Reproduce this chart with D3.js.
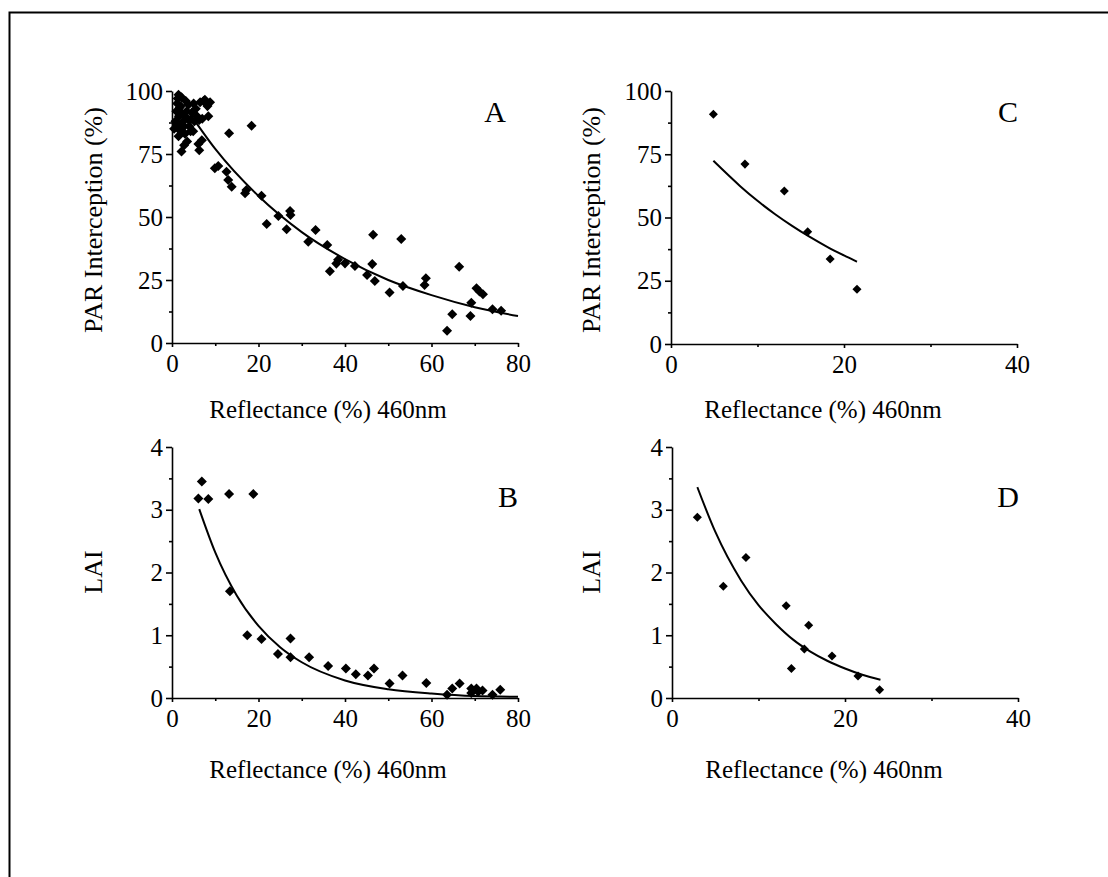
<!DOCTYPE html>
<html>
<head>
<meta charset="utf-8">
<script src="https://cdn.jsdelivr.net/npm/d3@7"></script>
<style>
  body { margin: 0; background: #fff; }
</style>
</head>
<body>
<svg id="chart" width="1108" height="877"></svg>
<script>
// panel A: PAR interception vs reflectance (all plots)
const parA = [
  [0.8, 88], [1.0, 92], [1.2, 95], [1.3, 97], [1.5, 98.5], [1.6, 90], [1.8, 86], [1.5, 82],
  [2.0, 94], [2.2, 97.5], [2.4, 91], [2.6, 88], [2.2, 76], [2.8, 78.5], [3.0, 83], [3.2, 96],
  [3.4, 92], [3.6, 89], [3.8, 94.5], [4.0, 86], [4.3, 84], [4.6, 91.5], [4.9, 84], [5.2, 88],
  [5.5, 93], [5.8, 90], [6.1, 79], [6.3, 76.5], [6.5, 95.5], [6.3, 88.5], [6.9, 80.5], [7.3, 96],
  [7.6, 96.5], [8.2, 94], [8.4, 90], [8.8, 95.5], [2.0, 84], [3.5, 80],
  [0.5, 85], [1.0, 86.5], [2.8, 86], [4.2, 88.5], [5.0, 95], [7.0, 89], [1.8, 93.5], [3.0, 90],
  [13.2, 83.2], [18.4, 86.2], [9.9, 69.3], [10.7, 70.2], [12.6, 68], [13.0, 64.7], [13.8, 62],
  [16.9, 59.4], [17.2, 60.7], [20.7, 58.4], [21.9, 47.2], [24.6, 50.4], [27.3, 52.4], [27.4, 50.8],
  [26.5, 45.1], [31.5, 40.2], [33.2, 44.8], [35.9, 38.9], [38.4, 33], [36.5, 28.5], [38, 31.5],
  [40, 31.6], [42.3, 30.6], [46.3, 31.3], [45.1, 27], [46.9, 24.6], [46.5, 43], [53, 41.3],
  [50.3, 20], [53.4, 22.6], [58.7, 25.7], [58.4, 23], [66.4, 30.3], [63.6, 4.9], [64.8, 11.4],
  [69, 10.7], [69.2, 16], [70.4, 21.7], [71.1, 20.4], [71.9, 19.3], [74.1, 13.4], [76.1, 12.8]
];
const fitA = [[3.8, 91.8], [10, 77], [20, 58.3], [30, 44], [40, 33.3], [50, 25], [60, 19], [70, 14.2], [80, 10.7]];

// panel B: LAI vs reflectance (all plots)
const laiB = [
  [6.9, 3.45], [6.1, 3.18], [8.4, 3.17], [13.2, 3.25], [18.8, 3.25], [13.4, 1.70], [17.4, 1.00],
  [20.7, 0.94], [24.5, 0.70], [27.4, 0.95], [27.4, 0.65], [31.7, 0.65], [36.1, 0.51], [40.2, 0.47],
  [42.5, 0.38], [45.3, 0.36], [46.7, 0.47], [50.3, 0.23], [53.3, 0.36], [58.8, 0.24], [63.6, 0.05],
  [64.8, 0.15], [66.5, 0.23], [69.2, 0.15], [70.4, 0.15], [69.2, 0.08], [71.8, 0.12], [74.1, 0.05],
  [75.9, 0.13], [70.8, 0.10]
];
const fitB = [[6.3, 3.01], [10, 2.32], [15, 1.63], [20, 1.15], [25, 0.81], [30, 0.57], [40, 0.28], [50, 0.14], [60, 0.07], [70, 0.03], [80, 0.02]];

// panel C: PAR interception, plot means
const parC = [[4.9, 90.8], [8.55, 71.1], [13.1, 60.5], [15.8, 44.4], [18.4, 33.6], [21.5, 21.6]];
const fitC = [[4.9, 72.4], [8, 62.4], [10, 56.6], [12, 51.4], [14, 46.7], [16, 42.4], [18, 38.5], [20, 35.0], [21.5, 32.5]];

// panel D: LAI, plot means
const laiD = [[2.93, 2.88], [5.93, 1.78], [8.55, 2.24], [13.2, 1.47], [13.8, 0.47], [15.3, 0.78], [15.8, 1.16], [18.5, 0.67], [21.5, 0.35], [24.0, 0.13]];
const fitD = [[2.93, 3.36], [5, 2.65], [8, 1.87], [10, 1.48], [12, 1.18], [14, 0.93], [16, 0.74], [18, 0.59], [20, 0.47], [22, 0.37], [24.1, 0.29]];

const xTicksWide = [0, 20, 40, 60, 80];
const xMinorWide = [10, 30, 50, 70];
const xTicksNarrow = [0, 20, 40];
const xMinorNarrow = [10, 30];
const parTicks = [0, 25, 50, 75, 100];
const parMinor = [12.5, 37.5, 62.5, 87.5];
const laiTicks = [0, 1, 2, 3, 4];
const laiMinor = [0.5, 1.5, 2.5, 3.5];

const xTitle = "Reflectance (%) 460nm";
const serif = "'Liberation Serif', 'Times New Roman', 'DejaVu Serif', serif";

const svg = d3.select("#chart").attr("font-family", serif);

// outer frame, right and bottom edges fall outside the picture
svg.append("rect")
  .attr("x", 9.5).attr("y", 12.5)
  .attr("width", 1200).attr("height", 1000)
  .attr("fill", "none").attr("stroke", "#000").attr("stroke-width", 2);

function panel(p) {
  const x = d3.scaleLinear().domain(p.xDomain).range(p.xRange);
  const y = d3.scaleLinear().domain(p.yDomain).range(p.yRange);
  const g = svg.append("g");
  const fmt = d3.format("~g");

  // minor ticks first, no labels
  g.append("g")
    .attr("transform", "translate(0," + p.yRange[0] + ")")
    .call(d3.axisBottom(x).tickValues(p.xMinor).tickSize(3).tickFormat(""))
    .call(a => a.select(".domain").remove());
  g.append("g")
    .attr("transform", "translate(" + p.xRange[0] + ",0)")
    .call(d3.axisLeft(y).tickValues(p.yMinor).tickSize(3).tickFormat(""))
    .call(a => a.select(".domain").remove());

  g.append("g")
    .attr("transform", "translate(0," + p.yRange[0] + ")")
    .call(d3.axisBottom(x).tickValues(p.xTicks).tickFormat(fmt).tickSize(4).tickPadding(7).tickSizeOuter(0));
  g.append("g")
    .attr("transform", "translate(" + p.xRange[0] + ",0)")
    .call(d3.axisLeft(y).tickValues(p.yTicks).tickFormat(fmt).tickSize(6).tickPadding(3).tickSizeOuter(0));

  g.selectAll("g").attr("font-family", serif).attr("font-size", 25);
  g.selectAll(".tick line, .domain").attr("stroke", "#000").attr("stroke-width", 1.6);
  g.selectAll(".tick text").attr("font-family", serif).attr("font-size", 25);

  g.append("path")
    .datum(p.fit)
    .attr("fill", "none")
    .attr("stroke", "#000")
    .attr("stroke-width", 2)
    .attr("d", d3.line().x(d => x(d[0])).y(d => y(d[1])).curve(d3.curveMonotoneX));

  g.selectAll(".pt")
    .data(p.points)
    .join("path")
    .attr("transform", d => "translate(" + x(d[0]) + "," + y(d[1]) + ")")
    .attr("d", d3.symbol().type(d3.symbolDiamond2).size(p.markSize))
    .attr("fill", "#000");

  g.append("text")
    .attr("x", p.xTitlePos[0]).attr("y", p.xTitlePos[1])
    .attr("font-family", serif)
    .attr("text-anchor", "middle").attr("font-size", 25)
    .text(xTitle);
  g.append("text")
    .attr("transform", "translate(" + p.yTitlePos[0] + "," + p.yTitlePos[1] + ") rotate(-90)")
    .attr("font-family", serif)
    .attr("text-anchor", "middle").attr("font-size", 26)
    .text(p.yTitle);
  g.append("text")
    .attr("x", p.letterPos[0]).attr("y", p.letterPos[1])
    .attr("font-family", serif)
    .attr("text-anchor", "middle").attr("font-size", 30)
    .text(p.letter);
}

panel({
  xDomain: [0, 80], xRange: [172, 518], yDomain: [0, 100], yRange: [343, 91],
  xTicks: xTicksWide, xMinor: xMinorWide, yTicks: parTicks, yMinor: parMinor,
  points: parA, fit: fitA, markSize: 64,
  xTitlePos: [328, 418], yTitlePos: [102, 220], yTitle: "PAR Interception (%)",
  letterPos: [495, 122], letter: "A"
});
panel({
  xDomain: [0, 80], xRange: [172, 518], yDomain: [0, 4], yRange: [698, 447],
  xTicks: xTicksWide, xMinor: xMinorWide, yTicks: laiTicks, yMinor: laiMinor,
  points: laiB, fit: fitB, markSize: 64,
  xTitlePos: [328, 778], yTitlePos: [102, 572], yTitle: "LAI",
  letterPos: [508, 507], letter: "B"
});
panel({
  xDomain: [0, 40], xRange: [671, 1017], yDomain: [0, 100], yRange: [344, 91],
  xTicks: xTicksNarrow, xMinor: xMinorNarrow, yTicks: parTicks, yMinor: parMinor,
  points: parC, fit: fitC, markSize: 52,
  xTitlePos: [823, 418], yTitlePos: [600, 220], yTitle: "PAR Interception (%)",
  letterPos: [1008, 122], letter: "C"
});
panel({
  xDomain: [0, 40], xRange: [672, 1018], yDomain: [0, 4], yRange: [698, 447],
  xTicks: xTicksNarrow, xMinor: xMinorNarrow, yTicks: laiTicks, yMinor: laiMinor,
  points: laiD, fit: fitD, markSize: 52,
  xTitlePos: [824, 778], yTitlePos: [600, 572], yTitle: "LAI",
  letterPos: [1008, 507], letter: "D"
});
</script>
</body>
</html>
